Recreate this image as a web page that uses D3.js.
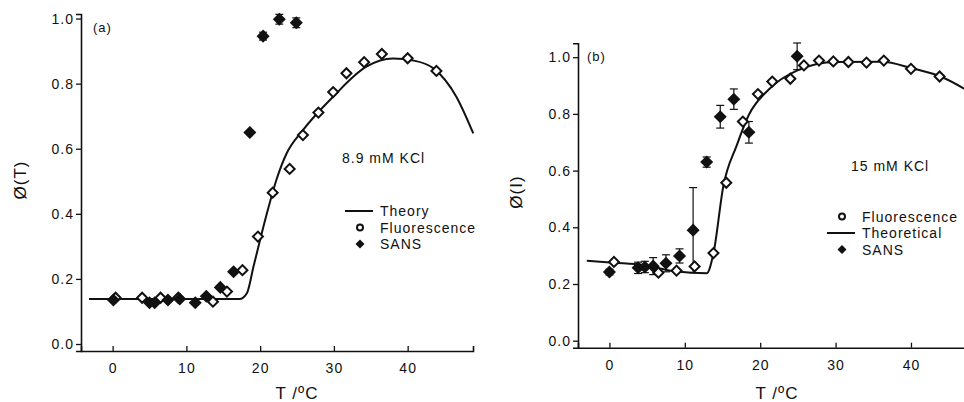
<!DOCTYPE html>
<html>
<head>
<meta charset="utf-8">
<script src="https://cdn.jsdelivr.net/npm/d3@7"></script>
<style>
  body { margin: 0; background: #fff; }
  text { font-family: "Liberation Sans", Arial, sans-serif; fill: #111; letter-spacing: 1px; }
</style>
</head>
<body>
<svg id="chart" width="964" height="402"></svg>
<script>
// ---- panel (a) : 8.9 mM KCl ----
var theoryA_T = [-3.2, 17.2, 18.2, 19.1, 20.9, 22.2, 23.6, 25.8, 29.9, 34.4, 38.0, 41.0, 43.5, 46.6, 48.9];
var theoryA_v = [0.138, 0.138, 0.156, 0.238, 0.40, 0.504, 0.586, 0.657, 0.76, 0.852, 0.877, 0.87, 0.847, 0.76, 0.647];
var fluoA_T = [0.4, 4.0, 6.5, 8.9, 13.6, 15.5, 17.6, 19.7, 21.7, 24.0, 25.8, 27.9, 29.9, 31.7, 34.1, 36.5, 40.0, 43.9];
var fluoA_v = [0.142, 0.142, 0.142, 0.142, 0.13, 0.161, 0.227, 0.33, 0.465, 0.538, 0.642, 0.711, 0.774, 0.832, 0.866, 0.891, 0.878, 0.839];
var sansA_T = [0.1, 5.0, 5.7, 7.5, 9.1, 11.2, 12.7, 14.6, 16.4, 18.6, 20.4, 22.6, 24.9];
var sansA_v = [0.135, 0.127, 0.127, 0.135, 0.138, 0.127, 0.147, 0.174, 0.222, 0.65, 0.946, 0.998, 0.987];
var sansA_err = [0, 0, 0, 0, 0, 0, 0, 0, 0, 0, 0.012, 0.015, 0.015];

// ---- panel (b) : 15 mM KCl ----
var theoryB_T = [-3.0, 0.5, 4.5, 8.9, 12.9, 13.8, 15.1, 16.9, 18.5, 21.1, 25.1, 30.0, 36.2, 40.1, 44.1, 47.3];
var theoryB_v = [0.282, 0.275, 0.267, 0.244, 0.238, 0.308, 0.544, 0.69, 0.797, 0.885, 0.955, 0.983, 0.984, 0.961, 0.93, 0.885];
var fluoB_T = [0.6, 6.5, 8.9, 11.3, 13.8, 15.5, 17.7, 19.7, 21.6, 24.0, 25.8, 27.8, 29.7, 31.7, 34.1, 36.4, 40.0, 43.8];
var fluoB_v = [0.278, 0.24, 0.247, 0.262, 0.309, 0.557, 0.773, 0.87, 0.914, 0.924, 0.971, 0.988, 0.985, 0.983, 0.981, 0.988, 0.959, 0.932];
var sansB_T = [0.0, 3.8, 4.7, 5.8, 7.5, 9.3, 11.1, 12.9, 14.7, 16.5, 18.5, 24.9];
var sansB_v = [0.242, 0.257, 0.26, 0.263, 0.273, 0.299, 0.39, 0.63, 0.79, 0.852, 0.735, 1.003];
var sansB_err = [0.01, 0.02, 0.02, 0.03, 0.03, 0.025, 0.15, 0.018, 0.04, 0.036, 0.038, 0.047];

var xTicks = [0, 10, 20, 30, 40];
var yTicks = [0.0, 0.2, 0.4, 0.6, 0.8, 1.0];

var svg = d3.select("#chart");

function zip(a, b, c) {
    return a.map(function(d, i) { return { x: d, y: b[i], e: c ? c[i] : 0 }; });
}

// dessine un panneau complet
function panel(p) {
    var x = d3.scaleLinear().domain(p.xDom).range(p.xRange);
    var y = d3.scaleLinear().domain(p.yDom).range(p.yRange);
    var g = svg.append("g");

    // axes
    var yAxis = g.append("g")
        .attr("transform", "translate(" + p.xRange[0] + ",0)")
        .call(d3.axisLeft(y).tickValues(yTicks).tickFormat(d3.format(".1f")).tickSizeOuter(0).tickSize(5).tickPadding(2));
    var xAxis = g.append("g")
        .attr("transform", "translate(0," + p.yRange[0] + ")")
        .call(d3.axisBottom(x).tickValues(xTicks).tickSizeOuter(0).tickSize(-5).tickPadding(12));
    [xAxis, yAxis].forEach(function(a) {
        a.select(".domain").attr("stroke", "#111").attr("stroke-width", 1.6);
        a.selectAll(".tick line").attr("stroke", "#111").attr("stroke-width", 1.3);
        a.selectAll(".tick text").style("font-size", "14px").attr("fill", "#111");
    });

    // courbe théorique
    var line = d3.line().x(function(d) { return x(d.x); }).y(function(d) { return y(d.y); })
        .curve(d3.curveMonotoneX);
    g.append("path").datum(zip(p.thT, p.thV))
        .attr("d", line).attr("fill", "none").attr("stroke", "#111").attr("stroke-width", 2);

    // SANS : barres d'erreur + losanges pleins
    var sans = zip(p.sT, p.sV, p.sE);
    var eb = g.selectAll(".eb").data(sans.filter(function(d) { return d.e > 0; })).enter().append("g");
    eb.append("line").attr("x1", function(d) { return x(d.x); }).attr("x2", function(d) { return x(d.x); })
        .attr("y1", function(d) { return y(d.y - d.e); }).attr("y2", function(d) { return y(d.y + d.e); })
        .attr("stroke", "#111").attr("stroke-width", 1.2);
    [-1, 1].forEach(function(s) {
        eb.append("line").attr("x1", function(d) { return x(d.x) - 4; }).attr("x2", function(d) { return x(d.x) + 4; })
            .attr("y1", function(d) { return y(d.y + s * d.e); }).attr("y2", function(d) { return y(d.y + s * d.e); })
            .attr("stroke", "#111").attr("stroke-width", 1.2);
    });

    var diamond = d3.symbol().type(d3.symbolSquare);
    g.selectAll(".fl").data(zip(p.fT, p.fV)).enter().append("path")
        .attr("d", diamond.size(50)())
        .attr("transform", function(d) { return "translate(" + x(d.x) + "," + y(d.y) + ") rotate(45)"; })
        .attr("fill", "#fff").attr("stroke", "#111").attr("stroke-width", 2);
    g.selectAll(".sa").data(sans).enter().append("path")
        .attr("d", diamond.size(85)())
        .attr("transform", function(d) { return "translate(" + x(d.x) + "," + y(d.y) + ") rotate(45)"; })
        .attr("fill", "#111");

    // textes
    g.append("text").attr("x", p.tag[0]).attr("y", p.tag[1]).style("font-size", "13px").text(p.tagText);
    g.append("text").attr("x", p.salt[0]).attr("y", p.salt[1]).style("font-size", "14px").text(p.saltText);
    g.append("text").attr("text-anchor", "middle").attr("x", p.xLab[0]).attr("y", p.xLab[1])
        .style("font-size", "17px").text("T /ºC");
    g.append("text").attr("text-anchor", "middle")
        .attr("transform", "translate(" + p.yLab[0] + "," + p.yLab[1] + ") rotate(-90)")
        .style("font-size", "17px").text(p.yLabText);

    // légende
    var lg = g.append("g").attr("transform", "translate(" + p.leg[0] + "," + p.leg[1] + ")");
    p.legItems.forEach(function(it, i) {
        var yy = i * 16.5;
        if (it.k === "line") {
            lg.append("line").attr("x1", -15).attr("x2", 13).attr("y1", yy - 5).attr("y2", yy - 5)
                .attr("stroke", "#111").attr("stroke-width", 2);
        } else if (it.k === "open") {
            lg.append("circle").attr("cx", 0).attr("cy", yy - 5).attr("r", 3)
                .attr("fill", "#fff").attr("stroke", "#111").attr("stroke-width", 2);
        } else {
            lg.append("path").attr("d", diamond.size(40)())
                .attr("transform", "translate(0," + (yy - 5) + ") rotate(45)").attr("fill", "#111");
        }
        lg.append("text").attr("x", 20).attr("y", yy).style("font-size", "14px").text(it.t);
    });
}

panel({
    xDom: [-4.29, 48.86], xRange: [81, 473],
    yDom: [-0.0215, 1.014], yRange: [351, 14],
    thT: theoryA_T, thV: theoryA_v, fT: fluoA_T, fV: fluoA_v,
    sT: sansA_T, sV: sansA_v, sE: sansA_err,
    tag: [93, 32], tagText: "(a)",
    salt: [342, 163], saltText: "8.9 mM KCl",
    xLab: [297, 399], yLab: [26, 180], yLabText: "Ø(T)",
    leg: [360, 216],
    legItems: [{ k: "line", t: "Theory" }, { k: "open", t: "Fluorescence" }, { k: "fill", t: "SANS" }]
});

panel({
    xDom: [-4.17, 47.3], xRange: [578, 966],
    yDom: [-0.0247, 1.049], yRange: [347.7, 43.3],
    thT: theoryB_T, thV: theoryB_v, fT: fluoB_T, fV: fluoB_v,
    sT: sansB_T, sV: sansB_v, sE: sansB_err,
    tag: [587, 61], tagText: "(b)",
    salt: [851, 171], saltText: "15 mM KCl",
    xLab: [777, 399], yLab: [522, 192], yLabText: "Ø(I)",
    leg: [842, 221.5],
    legItems: [{ k: "open", t: "Fluorescence" }, { k: "line", t: "Theoretical" }, { k: "fill", t: "SANS" }]
});
</script>
</body>
</html>
